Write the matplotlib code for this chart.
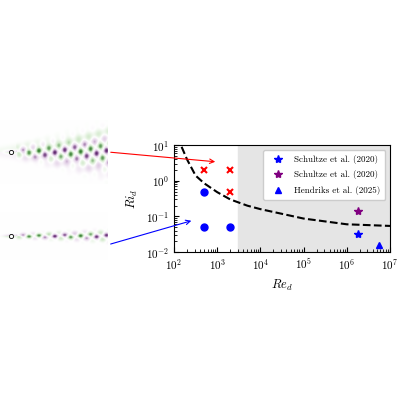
import numpy as np
import matplotlib
matplotlib.use("Agg")
import matplotlib.pyplot as plt
from matplotlib.colors import LinearSegmentedColormap

plt.rcParams['font.family'] = ['cmr10', 'DejaVu Serif']
plt.rcParams['mathtext.fontset'] = 'cm'
plt.rcParams['axes.formatter.use_mathtext'] = True

# data
x_mark_re = [500, 2000, 2000]
x_mark_ri = [2.0, 2.0, 0.5]
dot_re = [500, 500, 2000]
dot_ri = [0.5, 0.05, 0.05]
sch_blue_re, sch_blue_ri = [1.8e6], [0.033]
sch_purple_re, sch_purple_ri = [1.8e6], [0.14]
hen_re, hen_ri = [5.5e6], [0.016]
curve_re = [150, 200, 316, 500, 1000, 2000, 5000, 1e4, 1e5, 1e6, 1e7]
curve_ri = [9.0, 4.0, 1.4, 0.85, 0.48, 0.3, 0.2, 0.16, 0.087, 0.06, 0.054]
shade_start = 3e3

fig = plt.figure(figsize=(4, 4), dpi=100)

# decorative wake images
cmap = LinearSegmentedColormap.from_list('pg', ['#2f7a2a', '#cfe8c8', 'white', '#e2cfe6', '#5a1f6a'])
def wake(h, w, spread):
    y, x = np.mgrid[-1:1:h*1j, 0:1:w*1j]
    width = 0.08 + spread * x
    env = np.exp(-(y / width) ** 2) * (x > 0.15)
    f = np.sin(40 * x + 6 * y) * np.cos(25 * x - 9 * y) * env
    f += 0.15 * np.sign(y) * np.exp(-((np.abs(y) - 0.9 * spread * x * 1.6) / 0.15) ** 2) * (spread > 0.3)
    f -= 0.5 * np.exp(-((x - 0.1) ** 2 + y ** 2) / 0.004) * np.sign(y + 1e-9)
    return f
for (l, b, w, h, sp) in [(0.0, 0.54, 0.27, 0.16, 0.45), (0.0, 0.35, 0.27, 0.12, 0.12)]:
    a = fig.add_axes([l, b, w, h])
    a.imshow(wake(80, 200, sp), cmap=cmap, vmin=-1, vmax=1, aspect='auto')
    a.plot([20], [40], 'o', ms=3, mfc='white', mec='k', mew=0.6)
    a.axis('off')

ax = fig.add_axes([0.435, 0.37, 0.54, 0.267])
ax.set_xscale('log'); ax.set_yscale('log')
ax.set_xlim(1e2, 1e7); ax.set_ylim(1e-2, 1e1)
ax.axvspan(shade_start, 1e7, color='#e5e5e5', zorder=0)
ax.plot(curve_re, curve_ri, 'k--', lw=1.5)
ax.plot(x_mark_re, x_mark_ri, 'x', color='red', ms=5, mew=1.5, ls='none')
ax.plot(dot_re, dot_ri, 'o', color='blue', ms=5, ls='none')
ax.plot(sch_blue_re, sch_blue_ri, '*', color='blue', ms=6, ls='none', label='Schultze et al. (2020)')
ax.plot(sch_purple_re, sch_purple_ri, '*', color='purple', ms=6, ls='none', label='Schultze et al. (2020)')
ax.plot(hen_re, hen_ri, '^', color='blue', ms=5, ls='none', label='Hendriks et al. (2025)')
ax.legend(loc='upper right', fontsize=6.5, framealpha=1, handletextpad=0.8, borderpad=0.6, labelspacing=0.7)
ax.set_xlabel(r'$Re_d$', fontsize=9)
ax.set_ylabel(r'$Ri_d$', fontsize=9)
ax.tick_params(labelsize=8, which='both', direction='in')

fig.add_artist(matplotlib.patches.FancyArrowPatch((0.27, 0.62), (0.545, 0.595), transform=fig.transFigure,
               arrowstyle='->', color='red', lw=0.8, mutation_scale=8))
fig.add_artist(matplotlib.patches.FancyArrowPatch((0.27, 0.388), (0.485, 0.45), transform=fig.transFigure,
               arrowstyle='->', color='blue', lw=0.8, mutation_scale=8))
fig.savefig('out.png', dpi=100)
